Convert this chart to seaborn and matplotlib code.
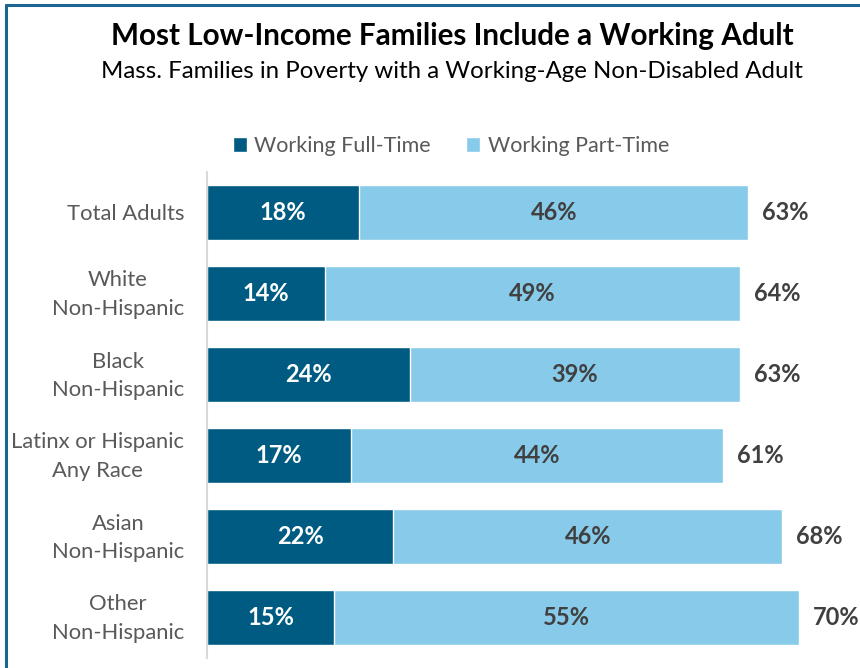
import matplotlib
matplotlib.use("Agg")
import matplotlib.pyplot as plt
import matplotlib.transforms as mtrans
from matplotlib.patches import Patch
from matplotlib.lines import Line2D
import seaborn as sns
import pandas as pd

groups = ["Total Adults", "White\nNon-Hispanic", "Black\nNon-Hispanic",
          "Latinx or Hispanic\nAny Race", "Asian\nNon-Hispanic", "Other\nNon-Hispanic"]
full_time = [18, 14, 24, 17, 22, 15]
part_time = [46, 49, 39, 44, 46, 55]
total_labels = ["63%", "64%", "63%", "61%", "68%", "70%"]

DARK = "#005B82"
LIGHT = "#87CAEA"
GREY_TXT = "#595959"
LABEL_TXT = "#404040"
FRAME = "#1B6591"

sns.set_theme(style="white")
plt.rcParams["font.family"] = ["Lato", "DejaVu Sans"]

df = pd.DataFrame({"group": groups, "full": full_time, "part": part_time})
df["stack"] = df["full"] + df["part"]

fig = plt.figure(figsize=(8.6, 6.68), dpi=100)
ax = fig.add_axes([207 / 860, 1 - 658 / 668, (850 - 207) / 860, (658 - 172) / 668])

# stacked bars: full length (light) underneath, full-time share (dark) on top
sns.barplot(data=df, x="stack", y="group", color=LIGHT, orient="h",
            width=0.67, saturation=1, ax=ax)
sns.barplot(data=df, x="full", y="group", color=DARK, orient="h",
            width=0.67, saturation=1, ax=ax)

ax.set_xlim(0, 76)
ax.set_ylim(5.5, -0.5)
ax.set_xlabel("")
ax.set_ylabel("")
ax.set_xticks([])
ax.tick_params(axis="y", length=0, pad=16.5, labelsize=15.8, labelcolor=GREY_TXT)
for s in ["top", "right", "bottom"]:
    ax.spines[s].set_visible(False)
ax.spines["left"].set_color("#D9D9D9")
ax.spines["left"].set_linewidth(1.5)

# right-aligned category labels, each line centered within its block
lift = mtrans.ScaledTranslation(0, 5 / 100, fig.dpi_scale_trans)
for lbl in ax.get_yticklabels():
    lbl.set_horizontalalignment("right")
    lbl.set_multialignment("center")
    lbl.set_linespacing(1.55)
    if "\n" in lbl.get_text():
        lbl.set_transform(lbl.get_transform() + lift)

for i, (f, p, t) in enumerate(zip(full_time, part_time, total_labels)):
    ax.text(f / 2, i, f"{f}%", ha="center", va="center", color="white",
            fontsize=17, fontweight="bold")
    ax.text(f + p / 2, i, f"{p}%", ha="center", va="center", color=LABEL_TXT,
            fontsize=17, fontweight="bold")
    ax.text(f + p + 1.6, i, t, ha="left", va="center", color=LABEL_TXT,
            fontsize=17, fontweight="bold")

fig.text(452 / 860, 1 - 36 / 668, "Most Low-Income Families Include a Working Adult",
         ha="center", va="center", fontsize=21.3, fontweight="bold", color="black")
fig.text(452 / 860, 1 - 71 / 668,
         "Mass. Families in Poverty with a Working-Age Non-Disabled Adult",
         ha="center", va="center", fontsize=17.3, color="black")

handles = [Patch(facecolor=DARK, label="Working Full-Time"),
           Patch(facecolor=LIGHT, label="Working Part-Time")]
fig.legend(handles=handles, loc="center", bbox_to_anchor=(451 / 860, 1 - 146 / 668),
           ncol=2, frameon=False, fontsize=15.5, labelcolor=GREY_TXT,
           handlelength=0.65, handleheight=0.65, handletextpad=0.35, columnspacing=1.65)

# frame lines along the top and left edges
fig.add_artist(Line2D([6 / 860, 1], [1 - 5 / 668, 1 - 5 / 668], color=FRAME,
                      linewidth=2.2, transform=fig.transFigure))
fig.add_artist(Line2D([6 / 860, 6 / 860], [0, 1 - 5 / 668], color=FRAME,
                      linewidth=2.2, transform=fig.transFigure))

fig.savefig("out.png", dpi=100, facecolor="white")
